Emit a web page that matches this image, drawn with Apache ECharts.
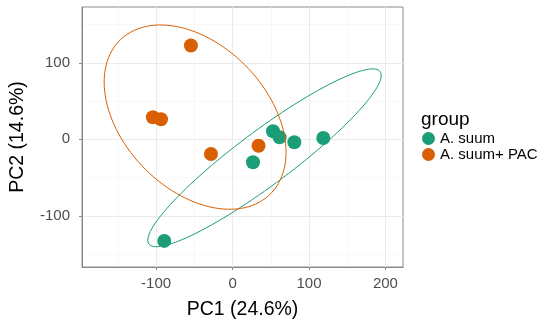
<!DOCTYPE html>
<html>
<head>
<meta charset="utf-8">
<script src="https://cdn.jsdelivr.net/npm/echarts@6/dist/echarts.min.js"></script>
<style>
  html, body { margin: 0; padding: 0; background: #fff; }
  #chart { width: 549px; height: 320px; }
</style>
</head>
<body>
<div id="chart"></div>
<script>
// groups
const groups = ['A. suum', 'A. suum+ PAC'];
const groupColors = ['#1b9e77', '#d95f02'];

// PCA scores [PC1, PC2]
const suumPoints = [[52.9, 10.5], [61.5, 2.6], [80.8, -3.9], [118.7, 1.7], [26.7, -30.1], [-89.4, -132.9]];
const pacPoints = [[-54.5, 122.7], [-104.2, 28.8], [-93.7, 26.2], [-28.3, -19.3], [34.0, -8.4]];

// ellipse outlines: [centerX, centerY, halfWidthX, halfHeightY, cos(phase)]
const suumEllipse = [41.8, -24.2, 152.8, 116.3, 0.927];
const pacEllipse = [-49.0, 29.0, 119.0, 120.5, -0.38];

// axis ticks
const xTicks = [-100, 0, 100, 200];
const yTicks = [-100, 0, 100];
const xMinor = [-150, -50, 50, 150];
const yMinor = [-150, -50, 50, 150];

const xRange = [-197, 223];
const yRange = [-167, 173];

function ellipsePath(e) {
  const [cx, cy, ax, ay, c] = e;
  const phi = Math.acos(c);
  const pts = [];
  for (let i = 0; i <= 120; i++) {
    const t = (i / 120) * Math.PI * 2;
    pts.push([cx + ax * Math.cos(t), cy + ay * Math.cos(t + phi)]);
  }
  return pts;
}

const font = '"Liberation Sans", Arial, sans-serif';

// panel grid lines (ticks don't start at the axis min, so drawn as marklines)
const major = { color: '#ebebeb', width: 1, type: 'solid' };
const minor = { color: '#f4f4f4', width: 0.6, type: 'solid' };
const gridLines = [
  ...xMinor.map((v) => ({ xAxis: v, lineStyle: minor })),
  ...yMinor.map((v) => ({ yAxis: v, lineStyle: minor })),
  ...xTicks.map((v) => ({ xAxis: v, lineStyle: major })),
  ...yTicks.map((v) => ({ yAxis: v, lineStyle: major })),
];

const chart = echarts.init(document.getElementById('chart'), null, { renderer: 'canvas' });

const option = {
  animation: false,
  backgroundColor: '#fff',
  textStyle: { fontFamily: font },
  grid: {
    left: 82, top: 7, width: 321, height: 260,
    outerBoundsMode: 'none',
    containLabel: false,
    show: true, borderColor: '#8a8a8a', borderWidth: 1, backgroundColor: '#fff',
  },
  xAxis: {
    type: 'value',
    min: xRange[0], max: xRange[1],
    name: 'PC1 (24.6%)',
    nameLocation: 'middle',
    nameGap: 33,
    nameTextStyle: { color: '#000', fontSize: 19.5, fontFamily: font },
    axisLine: { show: true, onZero: false, lineStyle: { color: '#8a8a8a' } },
    axisTick: { show: true, customValues: xTicks, length: 3, lineStyle: { color: '#8a8a8a' } },
    axisLabel: { customValues: xTicks, color: '#4d4d4d', fontSize: 15, margin: 9, fontFamily: font },
    splitLine: { show: false },
  },
  yAxis: {
    type: 'value',
    min: yRange[0], max: yRange[1],
    name: 'PC2 (14.6%)',
    nameLocation: 'middle',
    nameGap: 54,
    nameTextStyle: { color: '#000', fontSize: 19.5, fontFamily: font },
    axisLine: { show: true, onZero: false, lineStyle: { color: '#8a8a8a' } },
    axisTick: { show: true, customValues: yTicks, length: 3, lineStyle: { color: '#8a8a8a' } },
    axisLabel: { customValues: yTicks, color: '#4d4d4d', fontSize: 15, margin: 12, fontFamily: font },
    splitLine: { show: false },
  },
  legend: {
    data: groups,
    orient: 'vertical',
    left: 422,
    top: 131,
    padding: 0,
    itemWidth: 13,
    itemHeight: 13,
    itemGap: 1,
    icon: 'circle',
    textStyle: { color: '#000', fontSize: 15, lineHeight: 15, fontFamily: font },
  },
  graphic: [
    {
      type: 'text',
      left: 421,
      top: 110,
      style: { text: 'group', fontSize: 19, fill: '#000', fontFamily: font },
    },
  ],
  series: [
    {
      name: 'grid',
      type: 'scatter',
      data: [],
      silent: true,
      z: 0,
      markLine: {
        silent: true,
        symbol: 'none',
        label: { show: false },
        animation: false,
        z: 0,
        data: gridLines,
      },
    },
    {
      name: groups[0],
      type: 'scatter',
      symbolSize: 14,
      itemStyle: { color: groupColors[0], opacity: 1 },
      data: suumPoints,
      z: 3,
    },
    {
      name: groups[1],
      type: 'scatter',
      symbolSize: 14,
      itemStyle: { color: groupColors[1], opacity: 1 },
      data: pacPoints,
      z: 3,
    },
    {
      name: 'ellipse suum',
      type: 'line',
      data: ellipsePath(suumEllipse),
      showSymbol: false,
      silent: true,
      lineStyle: { color: groupColors[0], width: 1 },
      z: 4,
    },
    {
      name: 'ellipse pac',
      type: 'line',
      data: ellipsePath(pacEllipse),
      showSymbol: false,
      silent: true,
      lineStyle: { color: groupColors[1], width: 1 },
      z: 4,
    },
  ],
};

chart.setOption(option);
</script>
</body>
</html>
